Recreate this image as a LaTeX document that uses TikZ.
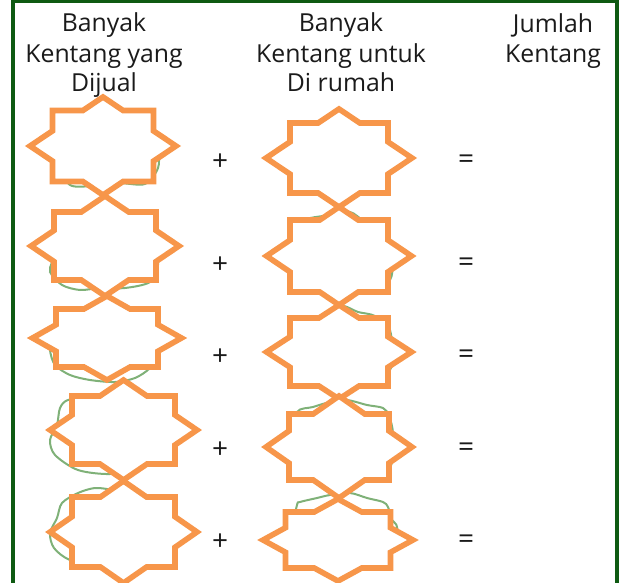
\documentclass[tikz,border=0pt]{standalone}
\usepackage{fontspec}
\setmainfont{Open Sans}
\usepackage{tikz}
\definecolor{frame}{HTML}{0E5A12}
\definecolor{peel}{HTML}{7FB178}
\definecolor{tag}{HTML}{F7964A}
\definecolor{ink}{HTML}{1A1A1A}
\tikzset{
  border/.style={draw=frame, line width=2pt},
  potato/.style={draw=peel, line width=1pt},
  starline/.style={draw=tag, fill=white, line width=2.8pt},
  head/.style={text=ink, font=\fontsize{12.4}{14}\selectfont, anchor=base, inner sep=0pt},
  op/.style={text=ink, font=\fontsize{14}{16}\selectfont, inner sep=0pt},
}
% eight-point star: name, centre x, centre y, square half w/h, tip half w/h
\newcommand{\tagstar}[7]{%
  \pgfmathsetmacro\notchx{#6*(1-#5/#7)}%
  \pgfmathsetmacro\notchy{#7*(1-#4/#6)}%
  \coordinate (#1) at (#2,#3);
  \draw[starline,shift={(#1)}] (0,-#7) -- (\notchx,-#5) -- (#4,-#5) -- (#4,-\notchy)
    -- (#6,0) -- (#4,\notchy) -- (#4,#5) -- (\notchx,#5) -- (0,#7)
    -- (-\notchx,#5) -- (-#4,#5) -- (-#4,\notchy) -- (-#6,0)
    -- (-#4,-\notchy) -- (-#4,-#5) -- (-\notchx,-#5) -- cycle;
}

\begin{document}
\begin{tikzpicture}[x=0.5pt,y=-0.5pt]
  \useasboundingbox (0,0) rectangle (619,582);

  % frame
  \draw[border] (13,600) -- (13,1.5) -- (617,1.5) -- (617,600);

  % column heads
  \node[head] (soldA) at (104,32) {Banyak};
  \node[head] (soldB) at (104,63) {Kentang yang};
  \node[head] (soldC) at (104,92) {Dijual};
  \node[head] (homeA) at (341,32) {Banyak};
  \node[head] (homeB) at (341,63) {Kentang untuk};
  \node[head] (homeC) at (341,92) {Di rumah};
  \node[head] (sumA) at (553,33) {Jumlah};
  \node[head] (sumB) at (553,63) {Kentang};

  % potatoes behind the stars
  \draw[potato] plot[smooth cycle] coordinates {(60,165) (70,185) (92,186) (118,183) (145,184) (158,168) (157,150) (140,125) (100,118) (68,135)};
  \draw[potato] plot[smooth cycle] coordinates {(52,262) (50,272) (62,285) (80,290) (100,288) (125,288) (150,282) (158,265) (155,240) (130,220) (80,220) (58,240)};
  \draw[potato] plot[smooth cycle] coordinates {(50,350) (55,365) (70,375) (90,380) (115,382) (135,378) (150,368) (160,352) (150,320) (110,310) (65,320) (52,335)};
  \draw[potato] plot[smooth cycle] coordinates {(60,408) (57,425) (50,440) (55,455) (78,470) (110,474) (140,468) (165,455) (170,420) (140,400) (90,398) (68,400)};
  \draw[potato] plot[smooth cycle] coordinates {(113,490) (95,488) (78,493) (62,503) (57,518) (50,533) (54,548) (70,560) (100,565) (150,565) (170,540) (168,510) (140,495)};
  \draw[potato] plot[smooth cycle] coordinates {(300,130) (355,122) (385,140) (385,185) (340,192) (295,185) (292,150)};
  \draw[potato] plot[smooth cycle] coordinates {(330,215) (350,212) (365,222) (388,235) (390,280) (350,290) (300,288) (288,250) (300,222)};
  \draw[potato] plot[smooth cycle] coordinates {(342,306) (358,312) (375,316) (390,330) (390,370) (350,383) (300,380) (290,340) (305,320) (330,318)};
  \draw[potato] plot[smooth cycle] coordinates {(297,412) (313,407) (330,402) (347,400) (367,405) (383,408) (389,416) (393,435) (388,470) (340,478) (295,470) (292,440)};
  \draw[potato] plot[smooth cycle] coordinates {(297,505) (300,502) (317,498) (330,495) (350,493) (367,498) (383,502) (388,507) (392,520) (397,527) (395,550) (340,565) (290,560) (292,530)};

  % stars, left column
  \tagstar{sold1}{103}{146}{50.5}{35.5}{73}{49}
  \tagstar{sold2}{105}{246}{51}{34}{74}{50}
  \tagstar{sold3}{107}{338}{51}{29}{74.5}{42}
  \tagstar{sold4}{123.5}{430}{51.5}{34}{73.5}{50}
  \tagstar{sold5}{123.5}{532}{51.5}{35}{73.5}{51}

  % stars, right column
  \tagstar{home1}{339}{158}{49}{35}{73}{49}
  \tagstar{home2}{339}{256}{49}{36}{72.5}{49}
  \tagstar{home3}{339}{352}{49}{34}{72.5}{47}
  \tagstar{home4}{339}{447}{50}{33}{73}{51}
  \tagstar{home5}{338}{540}{52.5}{28}{75}{41}

  % plus and equals
  \foreach \y [count=\i] in {162,265,357,450,542} {
    \node[op] (plus\i) at (220,\y) {+};
    \node[op] (eq\i) at (466,\y) {=};
  }
\end{tikzpicture}
\end{document}
